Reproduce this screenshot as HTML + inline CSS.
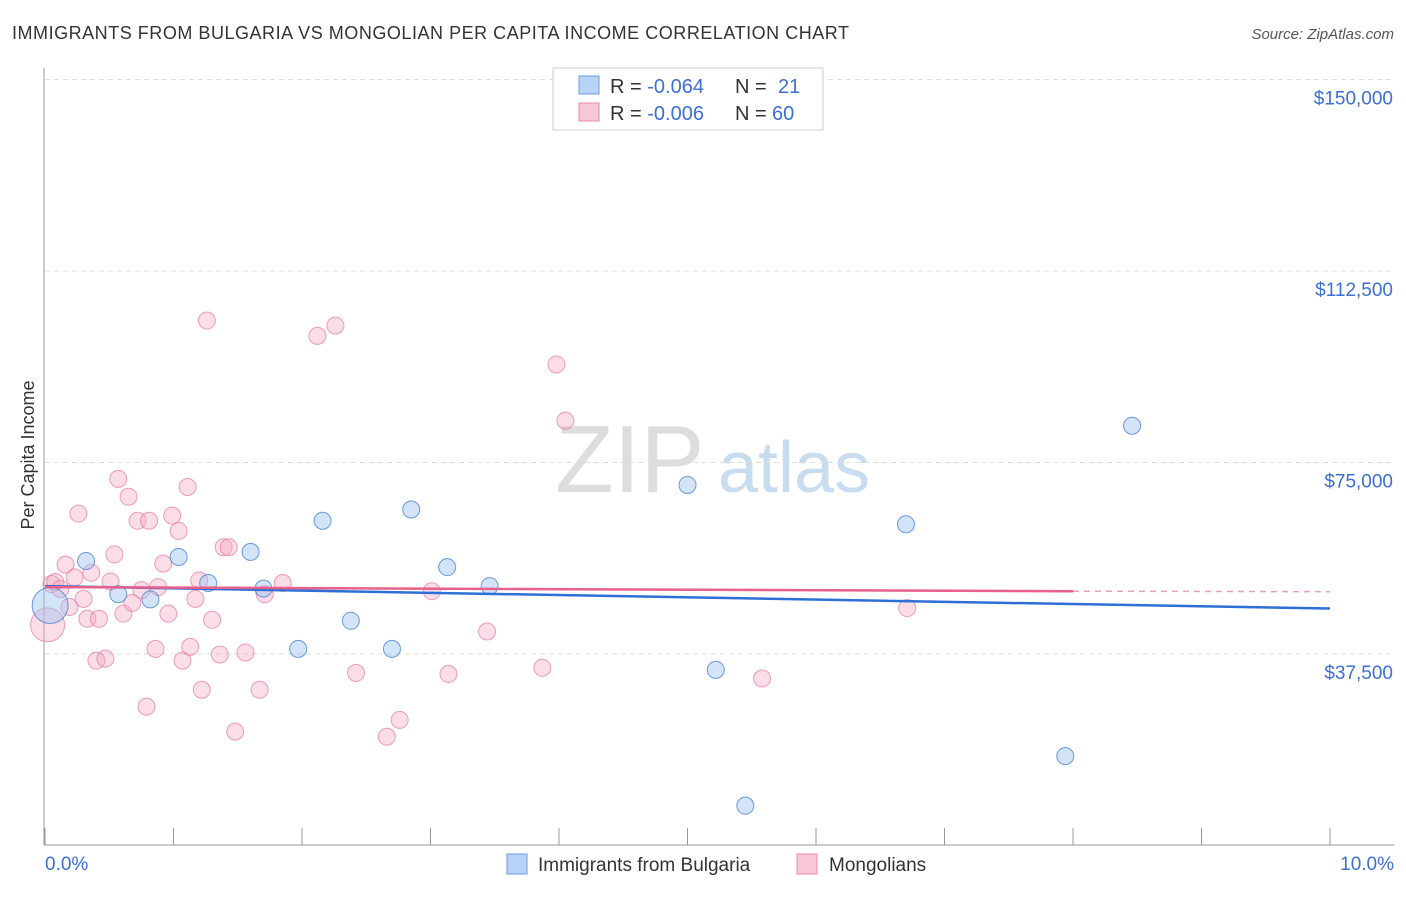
<!DOCTYPE html>
<html><head><meta charset="utf-8"><style>
body{margin:0;background:#fff;font-family:"Liberation Sans",sans-serif}
svg text{font-family:"Liberation Sans",sans-serif}
</style></head><body>
<svg id="c" width="1406" height="892">
<text x="12" y="39" font-size="18" fill="#333" textLength="837" lengthAdjust="spacing">IMMIGRANTS FROM BULGARIA VS MONGOLIAN PER CAPITA INCOME CORRELATION CHART</text>
<text x="1394" y="39" font-size="15" fill="#555" font-style="italic" text-anchor="end">Source: ZipAtlas.com</text>
<text transform="translate(34,455) rotate(-90)" font-size="18" fill="#333" text-anchor="middle">Per Capita Income</text>
<text x="555" y="492" font-size="96" fill="#ddd" font-family="Liberation Serif">ZIP</text>
<text x="718" y="492" font-size="72" fill="#c8dcf0">atlas</text>
<g id="grid"></g><g id="pts"></g><g id="lines"></g>
<g>
<rect x="553" y="68" width="270" height="62" fill="#fff" stroke="#ccc"/>
<rect x="579" y="76" width="20" height="18" fill="#b8d3f5" stroke="#6a9ee0"/>
<text x="610" y="93" font-size="20" fill="#333">R = <tspan fill="#3b6fd4">-0.064</tspan><tspan x="735">N = </tspan><tspan x="778" fill="#3b6fd4">21</tspan></text>
<rect x="579" y="103" width="20" height="18" fill="#f8c6d5" stroke="#e88aa8"/>
<text x="610" y="120" font-size="20" fill="#333">R = <tspan fill="#3b6fd4">-0.006</tspan><tspan x="735">N = </tspan><tspan x="772" fill="#3b6fd4">60</tspan></text>
</g>
<g>
<rect x="507" y="854" width="20" height="20" fill="#b8d3f5" stroke="#6a9ee0"/>
<text x="538" y="871" font-size="19" fill="#333">Immigrants from Bulgaria</text>
<rect x="797" y="854" width="20" height="20" fill="#f8c6d5" stroke="#e88aa8"/>
<text x="829" y="871" font-size="19" fill="#333">Mongolians</text>
</g>
</svg>
<script>
const yTicks=[37500,75000,112500,150000];
const yTickLabels=["$37,500","$75,000","$112,500","$150,000"];
const blueX=[0.04,0.32,0.57,0.82,1.04,1.27,1.60,1.70,1.97,2.16,2.38,2.70,2.85,3.13,3.46,5.00,5.22,5.45,6.70,7.94,8.46];
const blueY=[47000,55700,49200,48200,56500,51400,57500,50300,38500,63600,44000,38500,65800,54500,50800,70600,34400,7800,62900,17500,82200];
const pinkX=[0.02,0.05,0.08,0.12,0.16,0.19,0.23,0.26,0.30,0.33,0.36,0.40,0.42,0.47,0.51,0.54,0.57,0.61,0.65,0.68,0.72,0.75,0.79,0.81,0.86,0.88,0.92,0.96,0.99,1.04,1.07,1.11,1.13,1.17,1.20,1.22,1.26,1.30,1.36,1.39,1.43,1.48,1.56,1.67,1.71,1.85,2.12,2.26,2.42,2.66,2.76,3.01,3.14,3.44,3.87,3.98,4.05,5.58,6.71];
const pinkY=[43200,51200,51600,50200,55000,46700,52500,65000,48300,44400,53400,36200,44400,36600,51700,57000,71800,45400,68300,47500,63600,50000,27200,63600,38500,50600,55200,45400,64600,61600,36200,70200,38900,48300,51900,30500,102800,44200,37400,58400,58400,22300,37800,30500,49200,51400,99800,101800,33800,21300,24600,49800,33600,41900,34800,94200,83200,32700,46500];
const xMin=0,xMax=10,yMax=150000;
function sx(v){return 45+(v-xMin)/(xMax-xMin)*1285;}
function sy(v){return 845.5-v/yMax*766;}
const NS="http://www.w3.org/2000/svg";
function mk(t,a,p){const e=document.createElementNS(NS,t);for(const k in a)e.setAttribute(k,a[k]);p.appendChild(e);return e;}
const g=document.getElementById('grid');
yTicks.forEach((t,i)=>{
 const l=mk('line',{x1:45,x2:1394,y1:sy(t),y2:sy(t),stroke:'#ddd','stroke-dasharray':'5,4'},g);
 
 
 const tx=mk('text',{x:1393,y:sy(t)+25,'font-size':19,fill:'#3b6fd4','text-anchor':'end'},g);
 tx.textContent=yTickLabels[i];
 
 
});
const gl=mk('line',{x1:45,x2:1394,y1:sy(yMax),y2:sy(yMax),stroke:'#ddd','stroke-dasharray':'5,4'},g);


mk('line',{x1:44,x2:44,y1:68,y2:845,stroke:'#999'},g);
mk('line',{x1:44,x2:1394,y1:845,y2:845,stroke:'#999'},g);
for(let i=0;i<=10;i++){
 const t=mk('line',{x1:sx(i),x2:sx(i),y1:828,y2:845,stroke:'#999'},g);
 
 
}
const x0=mk('text',{x:45,y:870,'font-size':19,fill:'#3b6fd4'},g);x0.textContent='0.0%';


const x1=mk('text',{x:1394,y:870,'font-size':19,fill:'#3b6fd4','text-anchor':'end'},g);x1.textContent='10.0%';


const p=document.getElementById('pts');
pinkX.forEach((v,i)=>{
 const c=mk('circle',{cx:sx(v),cy:sy(pinkY[i]),r:i==0?17:8.5,fill:'rgba(246,170,195,0.4)',stroke:'rgba(230,120,155,0.7)','stroke-width':1},p);
 
 
});
blueX.forEach((v,i)=>{
 const c=mk('circle',{cx:sx(v),cy:sy(blueY[i]),r:i==0?18:8.5,fill:'rgba(160,195,240,0.45)',stroke:'rgba(70,130,215,0.8)','stroke-width':1},p);
 
 
});
const L=document.getElementById('lines');
const bl=mk('line',{x1:sx(0),y1:sy(50800),x2:sx(10),y2:sy(46400),stroke:'#2d6fd6','stroke-width':2.5},L);


const pl=mk('line',{x1:sx(0),y1:sy(50600),x2:sx(8),y2:sy(49800),stroke:'#e8608c','stroke-width':2.5},L);


const pd=mk('line',{x1:sx(8),y1:sy(49800),x2:sx(10),y2:sy(49700),stroke:'#e8a0b8','stroke-width':1.5,'stroke-dasharray':'6,5'},L);


</script>
</body></html>
